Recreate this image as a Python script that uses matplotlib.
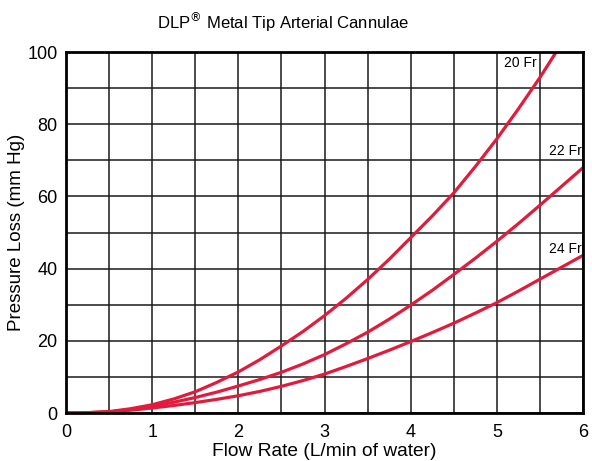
import numpy as np
import matplotlib
matplotlib.use("Agg")
import matplotlib.pyplot as plt

plt.rcParams["font.family"] = ["Liberation Sans", "DejaVu Sans"]

# Data
flow = [0, 0.25, 0.5, 0.75, 1, 1.25, 1.5, 1.75, 2, 2.25, 2.5, 2.75, 3,
        3.25, 3.5, 3.75, 4, 4.25, 4.5, 4.75, 5, 5.25, 5.5, 5.75, 6]
flow_20 = [0, 0.25, 0.5, 0.75, 1, 1.25, 1.5, 1.75, 2, 2.25, 2.5, 2.75, 3,
           3.25, 3.5, 3.75, 4, 4.25, 4.5, 4.75, 5, 5.25, 5.5, 5.7]
fr20 = [0, 0.1, 0.4, 1.2, 2.3, 3.9, 5.9, 8.5, 11.4, 14.8, 18.6, 22.6, 27.0,
        31.8, 37.0, 42.6, 48.6, 54.6, 61.0, 68.3, 76.0, 84.3, 93.0, 100.5]
fr22 = [0, 0.1, 0.3, 1.0, 1.8, 3.0, 4.3, 5.8, 7.5, 9.3, 11.3, 13.6, 16.2,
        19.2, 22.4, 26.0, 29.9, 34.0, 38.4, 42.9, 47.6, 52.5, 57.6, 62.8, 68.0]
fr24 = [0, 0.1, 0.3, 0.8, 1.4, 2.1, 2.9, 3.8, 4.8, 6.0, 7.4, 9.0, 10.8,
        12.9, 15.1, 17.4, 19.8, 22.3, 24.9, 27.7, 30.6, 33.8, 37.1, 40.4, 43.7]

red = "#E21B3C"

fig = plt.figure(figsize=(5.92, 4.61), dpi=100)
ax = fig.add_axes([0.1115, 0.104, 0.8735, 0.783])

ax.plot(flow_20, fr20, color=red, lw=2.3, solid_capstyle="butt", zorder=3)
ax.plot(flow, fr22, color=red, lw=2.3, solid_capstyle="butt", zorder=3)
ax.plot(flow, fr24, color=red, lw=2.3, solid_capstyle="butt", zorder=3)

ax.set_xlim(0, 6)
ax.set_ylim(0, 100)
ax.set_xticks(np.arange(0, 7, 1))
ax.set_yticks(np.arange(0, 101, 20))
ax.set_xticks(np.arange(0, 6.01, 0.5), minor=True)
ax.set_yticks(np.arange(0, 101, 10), minor=True)
ax.grid(True, which="both", color="#1a1a1a", lw=1.1, zorder=1)
ax.tick_params(which="both", length=0, labelsize=13)
ax.tick_params(axis="x", pad=8)
ax.tick_params(axis="y", pad=6)
for s in ax.spines.values():
    s.set_linewidth(2)
    s.set_color("black")
    s.set_zorder(4)

ax.text(5.46, 97, "20 Fr", fontsize=10, ha="right", va="center")
ax.text(5.98, 72.5, "22 Fr", fontsize=10, ha="right", va="center")
ax.text(5.98, 45.5, "24 Fr", fontsize=10, ha="right", va="center")

ax.set_xlabel("Flow Rate (L/min of water)", fontsize=13.8, labelpad=1)
ax.set_ylabel("Pressure Loss (mm Hg)", fontsize=13.5, labelpad=2)
fig.text(0.478, 0.952, "DLP$^{\u00ae}$ Metal Tip Arterial Cannulae",
         ha="center", va="center", fontsize=12)

fig.savefig("out.png", dpi=100)
